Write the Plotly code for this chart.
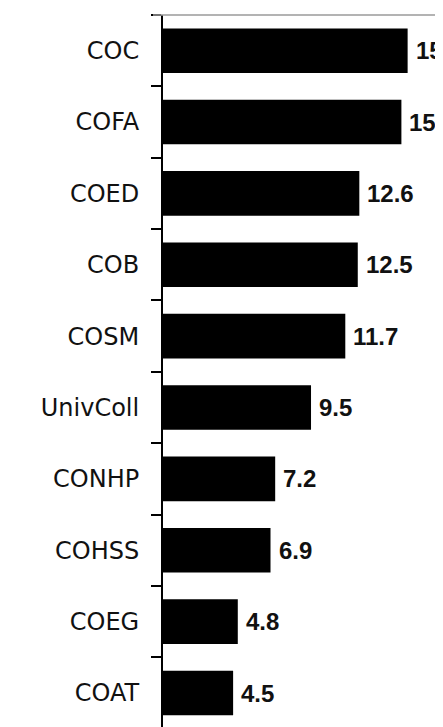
import plotly.graph_objects as go

categories = ["COC", "COFA", "COED", "COB", "COSM", "UnivColl", "CONHP", "COHSS", "COEG", "COAT"]
values = [15.7, 15.3, 12.6, 12.5, 11.7, 9.5, 7.2, 6.9, 4.8, 4.5]

fig = go.Figure()
fig.add_trace(go.Bar(
    x=values,
    y=categories,
    orientation="h",
    marker=dict(color="#000000", line=dict(width=0)),
    hoverinfo="x+y",
))

for c, v in zip(categories, values):
    fig.add_annotation(
        x=v, y=c, xref="x", yref="y",
        text=f"{v:.1f}",
        showarrow=False,
        xanchor="left", yanchor="middle",
        xshift=6,
        font=dict(family="Liberation Sans, Arial", size=24, color="#111111", weight="bold"),
    )

# light top border line of the plot frame
fig.add_shape(type="line", xref="paper", yref="paper",
              x0=-10 / 280, x1=1.2, y0=1, y1=1,
              line=dict(color="#9a9a9a", width=1.5))

fig.update_layout(
    width=435, height=719,
    margin=dict(l=155, r=0, t=7, b=0, pad=0),
    paper_bgcolor="white", plot_bgcolor="white",
    showlegend=False,
    bargap=0.375,
    xaxis=dict(range=[0, 17.97], showgrid=False, zeroline=False,
               showticklabels=False, ticks="", showline=False),
    yaxis=dict(type="category", range=[9.476, -0.5],
               showgrid=False, zeroline=False,
               showline=True, linecolor="#000000", linewidth=2,
               ticks="outside", ticklen=10, tickwidth=2, tickcolor="#000000",
               tickson="boundaries", ticklabelstandoff=17,
               tickfont=dict(family="DejaVu Sans", size=24, color="#111111")),
)

fig.write_html("out.html")
